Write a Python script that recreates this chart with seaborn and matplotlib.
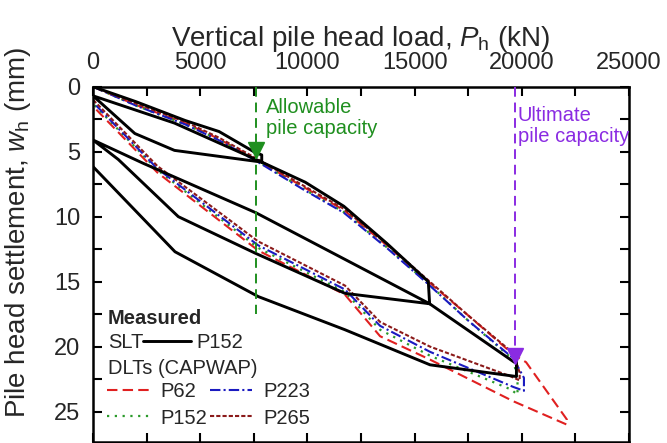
import matplotlib
matplotlib.use("Agg")
import matplotlib.pyplot as plt
import seaborn as sns
import pandas as pd
from matplotlib.lines import Line2D
from matplotlib.ticker import MultipleLocator

# ---------------- data ----------------
# Measured static load test (SLT), pile P152, cyclic loading
slt_load = [0, 2000, 4300, 5880, 7550, 7870, 7870, 3800, 1950, 0,
            3800, 7870, 9900, 11700, 13700, 15640, 15700,
            11750, 7555, 3980, 1180, 0,
            2350, 7600, 15700,
            19650, 19750, 19750, 15720, 11750, 7710, 3825, 0]
slt_settle = [0, 1.15, 2.6, 3.45, 5.05, 5.25, 5.8, 4.9, 3.6, 0.7,
              2.8, 5.8, 7.35, 9.2, 12.05, 15.0, 16.7,
              15.9, 12.8, 10.0, 5.6, 4.1,
              5.9, 9.7, 16.7,
              21.2, 21.0, 22.3, 21.4, 18.7, 16.15, 12.7, 6.15]

# Dynamic load tests (CAPWAP)
p62_load = [0, 2000, 4300, 5850, 7600, 9800, 11700, 13700, 15640, 17500, 19600, 20200, 22100,
            22100, 19600, 15720, 13390, 11750, 7700, 3000, 0]
p62_settle = [0, 1.4, 2.8, 4.0, 5.6, 7.7, 9.5, 12.2, 15.0, 17.6, 20.6, 21.2, 25.6,
              26.0, 24.2, 21.0, 19.2, 16.0, 12.6, 6.6, 1.5]

p223_load = [0, 2000, 4300, 5850, 7600, 9800, 11700, 13700, 15640, 17500, 19600, 20100,
             20100, 19600, 15720, 13390, 11750, 7700, 3000, 0]
p223_settle = [0, 1.45, 2.9, 4.1, 5.7, 7.9, 9.7, 12.4, 15.2, 18.0, 20.9, 22.4,
               23.4, 23.1, 20.4, 18.4, 15.6, 12.2, 6.3, 1.2]

p152_load = [0, 2000, 4300, 5850, 7600, 9800, 11700, 13700, 15640, 17500, 19600, 19800,
             19800, 19500, 15720, 13390, 11750, 7700, 3000, 0]
p152_settle = [0, 1.45, 2.9, 4.05, 5.65, 7.85, 9.65, 12.35, 15.15, 18.0, 21.0, 22.5,
               23.7, 23.3, 20.7, 18.7, 15.8, 12.4, 6.4, 1.3]

p265_load = [0, 2000, 4300, 5850, 7600, 9800, 11700, 13700, 15640, 17500, 19600, 19900,
             19900, 19500, 15720, 13390, 11750, 7700, 3000, 0]
p265_settle = [0, 1.3, 2.7, 3.9, 5.5, 7.6, 9.4, 12.1, 14.9, 17.6, 20.5, 22.0,
               22.6, 22.3, 20.0, 18.1, 15.3, 11.9, 6.1, 1.0]

allowable_load = 7600
allowable_arrow_settle = 4.9
allowable_line_end = 17.5
ultimate_load = 19700
ultimate_arrow_settle = 20.7

x_ticks = [0, 5000, 10000, 15000, 20000, 25000]
y_ticks = [0, 5, 10, 15, 20, 25]

# ---------------- style ----------------
sns.set_theme(style="ticks")
plt.rcParams["font.family"] = ["Liberation Sans", "DejaVu Sans"]
plt.rcParams["mathtext.fontset"] = "custom"
plt.rcParams["mathtext.it"] = "Liberation Sans:italic"
plt.rcParams["mathtext.rm"] = "Liberation Sans"

C_RED = "#e02020"
C_BLUE = "#1a1ac0"
C_GREEN = "#2a9a2a"
C_BROWN = "#8b1a1a"
C_ALLOW = "#1f8f1f"
C_ULT = "#8a2be2"

LS_RED = (0, (5, 2.5))
LS_BLUE = (0, (5, 1.5, 1, 1.5))
LS_GREEN = (0, (1, 2.5))
LS_BROWN = (0, (2, 1))

W, H = 667, 443
fig = plt.figure(figsize=(W / 100, H / 100), dpi=100)
ax_l, ax_r, ax_t, ax_b = 93, 629, 86.7, 441.5
ax = fig.add_axes([ax_l / W, 1 - ax_b / H, (ax_r - ax_l) / W, (ax_b - ax_t) / H])


def draw(load, settle, color, ls, lw, z=2):
    df = pd.DataFrame({"load": load, "settle": settle})
    sns.lineplot(data=df, x="load", y="settle", sort=False, estimator=None,
                 color=color, linestyle=ls, lw=lw, ax=ax, legend=False, zorder=z)


draw(p62_load, p62_settle, C_RED, LS_RED, 1.5)
draw(p152_load, p152_settle, C_GREEN, LS_GREEN, 1.6)
draw(p223_load, p223_settle, C_BLUE, LS_BLUE, 1.5)
draw(p265_load, p265_settle, C_BROWN, LS_BROWN, 1.5)
draw(slt_load, slt_settle, "black", "-", 2.1, z=3)

# capacity markers
ax.vlines(allowable_load, 0, allowable_line_end, color=C_ALLOW, lw=1.4,
          linestyles=[(0, (5, 3))], zorder=4)
ax.plot([allowable_load], [allowable_arrow_settle], marker="v", ms=11,
        color=C_ALLOW, ls="none", zorder=5)
ax.vlines(ultimate_load, 0, ultimate_arrow_settle, color=C_ULT, lw=1.4,
          linestyles=[(0, (5, 3))], zorder=4)
ax.plot([ultimate_load], [ultimate_arrow_settle], marker="v", ms=11,
        color=C_ULT, ls="none", zorder=5)

ax.text(8070, 2.4, "Allowable\npile capacity", color=C_ALLOW, fontsize=14.5,
        va="center", ha="left", linespacing=1.15)
ax.text(19800, 3.0, "Ultimate\npile capacity", color=C_ULT, fontsize=14.5,
        va="center", ha="left", linespacing=1.15)

# axes
ax.set_xlim(0, 25000)
ax.set_ylim(27.3, 0)
ax.set_xticks(x_ticks)
ax.set_yticks(y_ticks)
ax.set_xticklabels([str(v) for v in x_ticks])
ax.set_yticklabels([str(v) for v in y_ticks])
ax.xaxis.set_minor_locator(MultipleLocator(2500))
ax.yaxis.set_minor_locator(MultipleLocator(2.5))
ax.tick_params(which="both", direction="in", top=True, bottom=True, left=True,
               right=True, labeltop=True, labelbottom=False, length=6.5,
               width=1.5, color="black")
ax.tick_params(which="major", labelsize=17, pad=9)
for s in ax.spines.values():
    s.set_linewidth(1.8)
    s.set_color("black")

ax.xaxis.set_label_position("top")
ax.set_xlabel(r"Vertical pile head load, $P_\mathrm{h}$ (kN)", fontsize=20)
ax.set_ylabel(r"Pile head settlement, $w_\mathrm{h}$ (mm)", fontsize=20)
ax.xaxis.set_label_coords(0.5, (ax_b - 46) / (ax_b - ax_t))
ax.yaxis.set_label_coords((33 - ax_l) / (ax_r - ax_l), (ax_b - 232) / (ax_b - ax_t))


def fx(px):
    return (px - ax_l) / (ax_r - ax_l)


def fy(py):
    return (ax_b - py) / (ax_b - ax_t)


ax.text(fx(108), fy(318), "Measured", fontsize=14.5, weight="bold",
        transform=ax.transAxes, va="center", ha="left")
ax.text(fx(108), fy(343), "SLT", fontsize=14.5, transform=ax.transAxes,
        va="center", ha="left")
ax.text(fx(108), fy(368), "DLTs (CAPWAP)", fontsize=14.5,
        transform=ax.transAxes, va="center", ha="left")

leg1 = ax.legend(handles=[Line2D([], [], color="black", lw=2.1)], labels=["P152"],
                 loc="center left", bbox_to_anchor=(fx(143), fy(343)),
                 frameon=False, handlelength=2.4, handletextpad=0.25,
                 borderpad=0, borderaxespad=0, fontsize=14.5)
ax.add_artist(leg1)

h_red = Line2D([], [], color=C_RED, ls=LS_RED, lw=1.5)
h_green = Line2D([], [], color=C_GREEN, ls=LS_GREEN, lw=1.6)
h_blue = Line2D([], [], color=C_BLUE, ls=LS_BLUE, lw=1.5)
h_brown = Line2D([], [], color=C_BROWN, ls=LS_BROWN, lw=1.5)
ax.legend(handles=[h_red, h_green, h_blue, h_brown],
          labels=["P62", "P152", "P223", "P265"], ncol=2,
          loc="center left", bbox_to_anchor=(fx(107), fy(405)),
          frameon=False, handlelength=2.1, handletextpad=0.55,
          columnspacing=0.15, labelspacing=0.35, borderpad=0,
          borderaxespad=0, fontsize=14.5)

fig.savefig("out.png", dpi=100)
